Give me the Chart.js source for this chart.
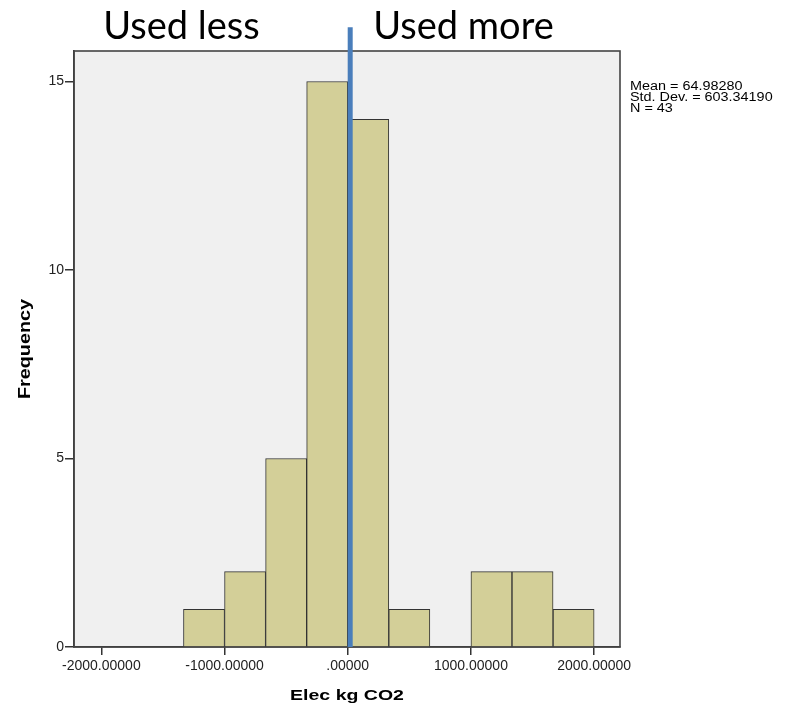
<!DOCTYPE html>
<html>
<head>
<meta charset="utf-8">
<script src="https://cdn.jsdelivr.net/npm/chart.js@4/dist/chart.umd.min.js"></script>
<style>
  html, body { margin: 0; padding: 0; background: #ffffff; }
  #wrap { width: 786px; height: 710px; position: relative; }
</style>
</head>
<body>
<div id="wrap"><canvas id="chart" width="786" height="710"></canvas></div>
<script>
// Histogram of electricity change (kg CO2): bin centres and counts
const binCenters = [-1166.67, -833.33, -500, -166.67, 166.67, 500, 833.33, 1166.67, 1500, 1833.33];
const binCounts  = [1, 2, 5, 15, 14, 1, 0, 2, 2, 1];

// Axis ticks
const xTickValues = [-2000, -1000, 0, 1000, 2000];
const xTickLabels = ['-2000.00000', '-1000.00000', '.00000', '1000.00000', '2000.00000'];
const yTickValues = [0, 5, 10, 15];
const yTickLabels = ['0', '5', '10', '15'];

// Divider between "used less" and "used more"
const dividerX = [20, 20];
const dividerY = [0, 16.44];

// Summary statistics and captions
const statLines = ['Mean = 64.98280', 'Std. Dev. = 603.34190', 'N = 43'];
const sideLabels = ['Used less', 'Used more'];
const xTitle = 'Elec kg CO2';
const yTitle = 'Frequency';

const xRange = [-2222, 2210];
const yRange = [0, 15.81];

// draws text stretched horizontally, the way the statistics package renders it
function wideText(ctx, text, x, y, sx) {
  ctx.save();
  ctx.translate(x, y);
  ctx.scale(sx, 1);
  ctx.fillText(text, 0, 0);
  ctx.restore();
}

const plotFrame = {
  id: 'plotFrame',
  beforeDraw(chart) {
    const { ctx, chartArea: a } = chart;
    ctx.save();
    ctx.fillStyle = '#f0f0f0';
    ctx.fillRect(a.left, a.top, a.right - a.left, a.bottom - a.top);
    ctx.restore();
  },
  beforeDatasetsDraw(chart) {
    const { ctx, chartArea: a } = chart;
    ctx.save();
    ctx.strokeStyle = '#444444';
    ctx.lineWidth = 1.6;
    ctx.strokeRect(a.left, a.top, a.right - a.left, a.bottom - a.top);
    ctx.restore();
  },
  afterDraw(chart) {
    const { ctx, chartArea: a, scales } = chart;
    ctx.save();
    ctx.fillStyle = '#000';

    // statistics block to the right of the plot
    ctx.font = '12px "Liberation Sans", Arial, sans-serif';
    ctx.textBaseline = 'middle';
    ctx.textAlign = 'left';
    statLines.forEach((t, i) => wideText(ctx, t, a.right + 10, a.top + 35.5 + i * 11.3, 1.2));

    // axis titles
    ctx.font = 'bold 15px "Liberation Sans", Arial, sans-serif';
    ctx.textAlign = 'center';
    ctx.textBaseline = 'alphabetic';
    wideText(ctx, xTitle, (a.left + a.right) / 2, 700, 1.3);

    ctx.save();
    ctx.font = 'bold 16px "Liberation Sans", Arial, sans-serif';
    ctx.translate(29.5, (a.top + a.bottom) / 2);
    ctx.rotate(-Math.PI / 2);
    wideText(ctx, yTitle, 0, 0, 1.235);
    ctx.restore();

    // side captions either side of the divider
    ctx.font = '38px Lato, "Open Sans", sans-serif';
    ctx.textAlign = 'center';
    ctx.textBaseline = 'alphabetic';
    const xs = scales.x;
    ctx.fillText(sideLabels[0], xs.getPixelForValue(-1350), 39);
    ctx.fillText(sideLabels[1], xs.getPixelForValue(940), 39);
    ctx.restore();
  }
};

new Chart(document.getElementById('chart'), {
  type: 'bar',
  data: {
    datasets: [
      {
        type: 'line',
        order: 0,
        data: dividerX.map((x, i) => ({ x, y: dividerY[i] })),
        borderColor: '#4a7ebb',
        borderWidth: 5,
        borderCapStyle: 'butt',
        pointRadius: 0,
        clip: false,
        tension: 0
      },
      {
        type: 'bar',
        order: 1,
        data: binCenters.map((x, i) => ({ x, y: binCounts[i] })),
        backgroundColor: '#d3cf98',
        borderColor: '#333333',
        borderWidth: 1,
        barPercentage: 1,
        categoryPercentage: 1
      }
    ]
  },
  options: {
    responsive: false,
    animation: false,
    devicePixelRatio: 1,
    layout: { padding: { top: 51, right: 166, left: 0, bottom: 0 } },
    plugins: { legend: { display: false }, tooltip: { enabled: false } },
    scales: {
      x: {
        type: 'linear',
        min: xRange[0],
        max: xRange[1],
        offset: false,
        afterBuildTicks: s => { s.ticks = xTickValues.map(v => ({ value: v })); },
        afterFit: s => { s.height = 63; },
        ticks: {
          autoSkip: false,
          maxRotation: 0,
          padding: 3,
          color: '#222',
          font: { family: '"Liberation Sans", Arial, sans-serif', size: 14 },
          callback: (v, i) => xTickLabels[i]
        },
        grid: { display: true, drawOnChartArea: false, drawTicks: true, tickLength: 8, color: '#333', lineWidth: 1.5, offset: false },
        border: { display: true, color: '#333', width: 1.6 }
      },
      y: {
        min: yRange[0],
        max: yRange[1],
        afterBuildTicks: s => { s.ticks = yTickValues.map(v => ({ value: v })); },
        afterFit: s => { s.width = 74; },
        ticks: {
          padding: 1,
          color: '#222',
          font: { family: '"Liberation Sans", Arial, sans-serif', size: 14 },
          callback: (v, i) => yTickLabels[i]
        },
        grid: { display: true, drawOnChartArea: false, drawTicks: true, tickLength: 9, color: '#333', lineWidth: 1.5 },
        border: { display: true, color: '#333', width: 1.6 }
      }
    }
  },
  plugins: [plotFrame]
});
</script>
</body>
</html>
